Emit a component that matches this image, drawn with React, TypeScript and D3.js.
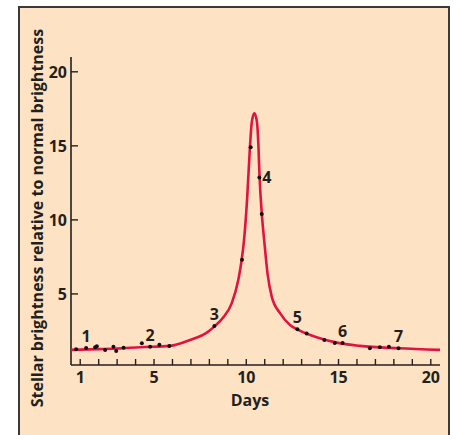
import React from "react";
import * as d3 from "d3";

// Smooth light curve (day, brightness)
const curveDays = [0.5, 2.0, 3.0, 4.25, 5.87, 6.96, 7.86, 8.31, 8.76, 9.21, 9.57, 9.75, 9.88, 10.05, 10.2, 10.3, 10.44, 10.58, 10.66, 10.72, 10.84, 10.98, 11.15, 11.38, 11.83, 12.37, 12.82, 13.81, 14.9, 16.16, 18.25, 20.5];
const curveValues = [1.22, 1.27, 1.31, 1.4, 1.49, 1.89, 2.39, 2.84, 3.42, 4.36, 5.95, 7.3, 8.65, 11.5, 14.95, 16.6, 17.2, 16.6, 14.95, 12.9, 10.45, 8.5, 6.4, 4.82, 3.7, 2.9, 2.57, 2.07, 1.71, 1.49, 1.33, 1.22];

// Observed data points
const obsDays = [0.78, 1.32, 1.81, 1.9, 2.35, 2.8, 2.95, 3.35, 4.34, 4.79, 5.29, 5.83, 8.27, 9.77, 10.24, 10.71, 10.84, 12.77, 13.27, 14.23, 14.8, 15.22, 16.7, 17.24, 17.73, 18.25];
const obsValues = [1.26, 1.35, 1.4, 1.46, 1.22, 1.44, 1.15, 1.37, 1.67, 1.44, 1.57, 1.49, 2.84, 7.3, 14.9, 12.86, 10.4, 2.61, 2.32, 1.89, 1.69, 1.69, 1.33, 1.4, 1.44, 1.33];

// Numbered labels: text, index of observed point, placement
const labelTexts = ["1", "2", "3", "4", "5", "6", "7"];
const labelPointIdx = [1, 9, 12, 15, 17, 21, 25];
const labelPlacement = ["above", "above", "above", "right", "above", "above", "above"];

const xTickValues = d3.range(1, 21);
const xTickLabels = [1, 5, 10, 15, 20];
const yTickValues = [5, 10, 15, 20];

const xTitle = "Days";
const yTitle = "Stellar brightness relative to normal brightness";

export default function App() {
  const W = 454;
  const H = 435;
  const x = d3.scaleLinear().domain([0.5, 20.5]).range([71, 440]);
  const y = d3.scaleLinear().domain([0.2, 21]).range([365, 57]);

  const pts: [number, number][] = curveDays.map((d, i) => [d, curveValues[i]]);
  const line = d3
    .line<[number, number]>()
    .x((d) => x(d[0]))
    .y((d) => y(d[1]))
    .curve(d3.curveMonotoneX);

  const font = "'Open Sans', 'DejaVu Sans', sans-serif";
  const ink = "#231f20";

  return (
    <svg
      width={W}
      height={H}
      style={{ position: "absolute", left: 0, top: 0, background: "#fff" }}
      fontFamily={font}
    >
      <rect x={19} y={7} width={430} height={440} fill="#fde3c3" stroke="#3a3a3a" strokeWidth={2} />

      {/* y axis */}
      <line x1={x(0.5)} x2={x(0.5)} y1={y(21)} y2={y(0.2)} stroke={ink} strokeWidth={1.6} />
      {yTickValues.map((v) => (
        <g key={"yt" + v}>
          <line x1={x(0.5)} x2={x(0.5) + 7} y1={y(v)} y2={y(v)} stroke={ink} strokeWidth={1.4} />
          <text x={67} y={y(v)} dy="0.36em" textAnchor="end" fontSize={16} fontWeight="bold" fill={ink}>
            {v}
          </text>
        </g>
      ))}

      {/* x axis */}
      <line x1={x(0.5)} x2={x(20.5)} y1={y(0.2)} y2={y(0.2)} stroke={ink} strokeWidth={1.6} />
      {xTickValues.map((d) => (
        <line key={"xt" + d} x1={x(d)} x2={x(d)} y1={y(0.2)} y2={y(0.2) - 6} stroke={ink} strokeWidth={1.4} />
      ))}
      {xTickLabels.map((d) => (
        <text key={"xl" + d} x={x(d)} y={383} textAnchor="middle" fontSize={16} fontWeight="bold" fill={ink}>
          {d}
        </text>
      ))}
      <text x={x(10.2)} y={406} textAnchor="middle" fontSize={16} fontWeight="bold" fill={ink}>
        {xTitle}
      </text>
      <text
        transform={`translate(43, 218) rotate(-90)`}
        textAnchor="middle"
        fontSize={16}
        fontWeight="bold"
        fill={ink}
      >
        {yTitle}
      </text>

      {/* curve */}
      <path d={line(pts) || ""} fill="none" stroke="#e0143f" strokeWidth={2.6} strokeLinejoin="round" />

      {/* points */}
      {obsDays.map((d, i) => (
        <circle key={"p" + i} cx={x(d)} cy={y(obsValues[i])} r={2} fill="#111" />
      ))}

      {/* labels */}
      {labelTexts.map((t, i) => {
        const k = labelPointIdx[i];
        const px = x(obsDays[k]);
        const py = y(obsValues[k]);
        const right = labelPlacement[i] === "right";
        return (
          <text
            key={"l" + t}
            x={right ? px + 3 : px}
            y={right ? py + 5 : py - 6}
            textAnchor={right ? "start" : "middle"}
            fontSize={16}
            fontWeight="bold"
            fill={ink}
          >
            {t}
          </text>
        );
      })}
    </svg>
  );
}
